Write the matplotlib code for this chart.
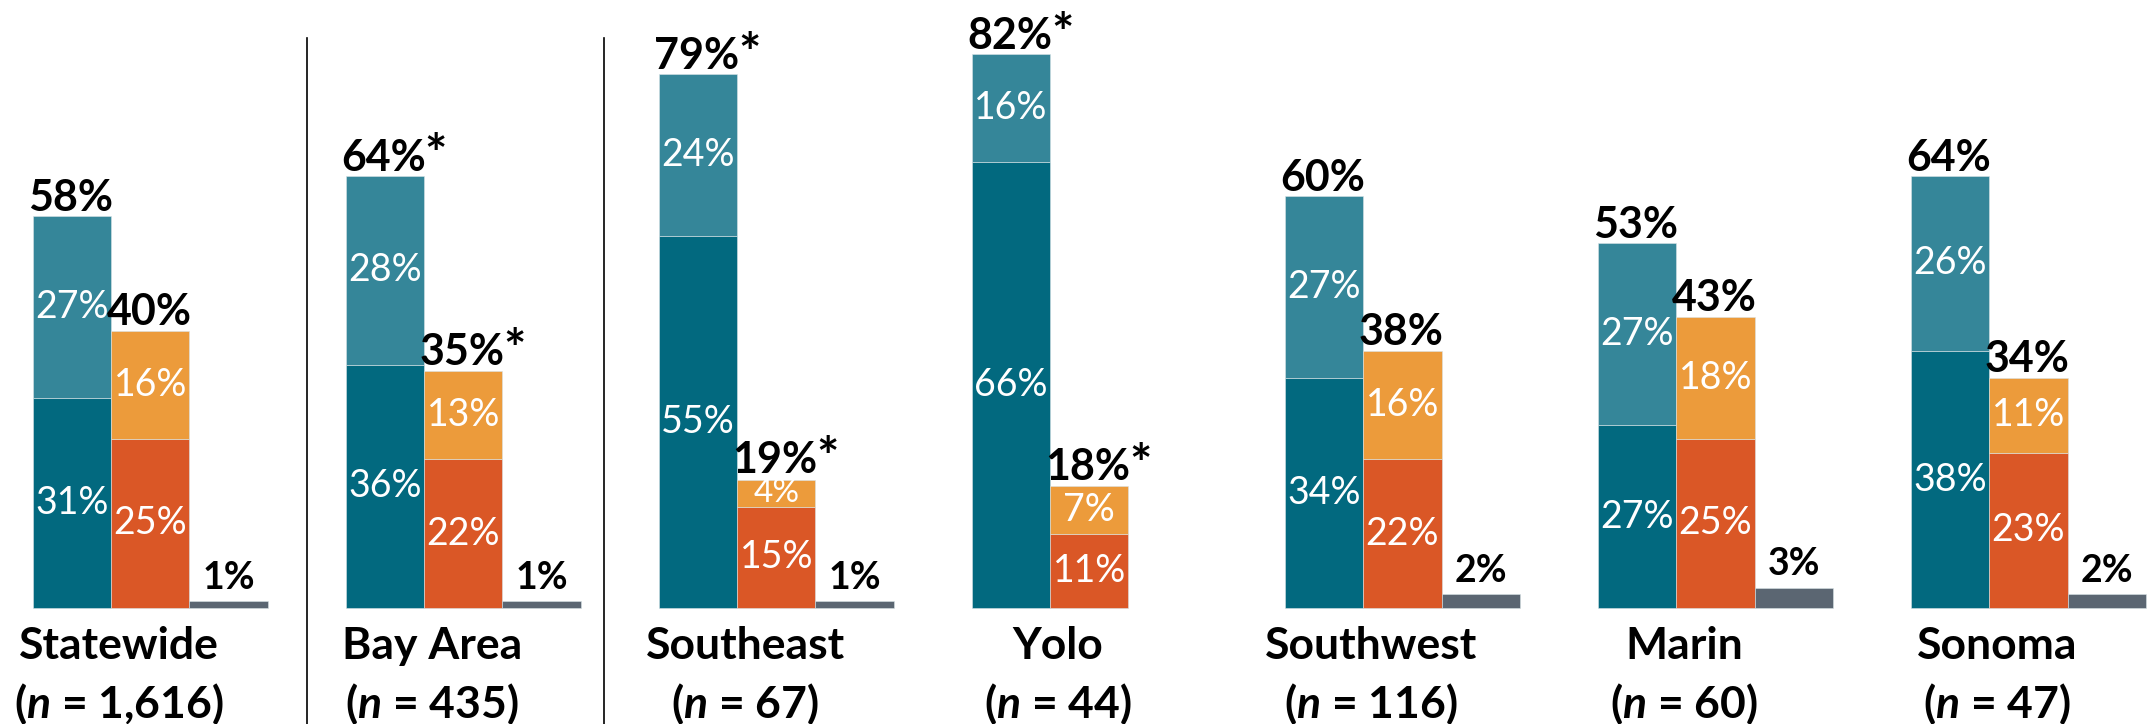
import matplotlib
matplotlib.use("Agg")
import matplotlib.pyplot as plt
import numpy as np

plt.rcParams['font.family'] = ['Lato', 'DejaVu Sans']
plt.rcParams['mathtext.fontset'] = 'custom'
plt.rcParams['mathtext.it'] = 'Lato:italic:bold'
plt.rcParams['mathtext.rm'] = 'Lato:bold'

regions = ["Statewide", "Bay Area", "Southeast", "Yolo", "Southwest", "Marin", "Sonoma"]
sample_n = ["1,616", "435", "67", "44", "116", "60", "47"]

# first bar: two teal segments
teal_low = [31, 36, 55, 66, 34, 27, 38]
teal_high = [27, 28, 24, 16, 27, 27, 26]
teal_total = ["58%", "64%*", "79%*", "82%*", "60%", "53%", "64%"]

# second bar: two orange segments
red_low = [25, 22, 15, 11, 22, 25, 23]
orange_high = [16, 13, 4, 7, 16, 18, 11]
orange_total = ["40%", "35%*", "19%*", "18%*", "38%", "43%", "34%"]

# third bar: small gray (Yolo has none)
gray_vals = [1, 1, 1, 0, 2, 3, 2]

c_teal_dark = "#02697F"
c_teal_light = "#358699"
c_red = "#DA5726"
c_orange = "#EC9B3B"
c_gray = "#5B6672"

fig = plt.figure(figsize=(21.56, 7.24), dpi=100)
ax = fig.add_axes([0, 0, 1, 1])

x = np.arange(len(regions)) * 4
w = 1.0
edge = dict(edgecolor="#d8e3e6", linewidth=0.4)

ax.bar(x, teal_low, w, color=c_teal_dark, **edge)
ax.bar(x, teal_high, w, bottom=teal_low, color=c_teal_light, **edge)
ax.bar(x + 1, red_low, w, color=c_red, **edge)
ax.bar(x + 1, orange_high, w, bottom=red_low, color=c_orange, **edge)
gray_x = [x[i] + 2 for i in range(len(x)) if gray_vals[i] > 0]
ax.bar(gray_x, [g for g in gray_vals if g > 0], w, color=c_gray, **edge)

inner = dict(ha="center", va="center", color="white", fontsize=27)
top = dict(ha="left", va="bottom", color="black", fontsize=31, fontweight="bold")


def total_label(xpos, ypos, label):
    # number first, asterisk drawn bigger right after it
    t = ax.text(xpos, ypos, label.rstrip("*"), **top)
    if label.endswith("*"):
        ax.annotate("*", xy=(1, 1), xycoords=t, ha="left", va="top", xytext=(-1, 3),
                    textcoords="offset points", fontsize=38, fontweight="bold")


for i in range(len(regions)):
    # inner labels
    ax.text(x[i], teal_low[i] / 2, f"{teal_low[i]}%", **inner)
    ax.text(x[i], teal_low[i] + teal_high[i] / 2, f"{teal_high[i]}%", **inner)
    ax.text(x[i] + 1, red_low[i] / 2, f"{red_low[i]}%", **inner)
    small = dict(inner, fontsize=24) if orange_high[i] < 6 else inner
    ax.text(x[i] + 1, red_low[i] + orange_high[i] / 2, f"{orange_high[i]}%", **small)
    # totals
    t1 = teal_low[i] + teal_high[i]
    t2 = red_low[i] + orange_high[i]
    total_label(x[i] - 0.56, t1 - 0.3, teal_total[i])
    total_label(x[i] + 1 - 0.56, t2 - 0.1, orange_total[i])
    if gray_vals[i] > 0:
        ax.text(x[i] + 2, gray_vals[i] + 0.9, f"{gray_vals[i]}%", ha="center", va="bottom",
                fontsize=27, fontweight="bold")
    # category labels
    ax.text(x[i] + 0.6, -5.6, regions[i], ha="center", va="center", fontsize=32, fontweight="bold")
    ax.text(x[i] + 0.6, -14.2, f"($n$ = {sample_n[i]})", ha="center", va="center",
            fontsize=32, fontweight="bold")

# separators after Statewide and Bay Area
for xs in [3.0, 6.8]:
    ax.plot([xs, xs], [84.3, -18], color="black", linewidth=1.2)

ax.set_xlim(-0.92, 26.63)
ax.set_ylim(-17.2, 90)
ax.axis("off")

fig.savefig("out.png", dpi=100)
